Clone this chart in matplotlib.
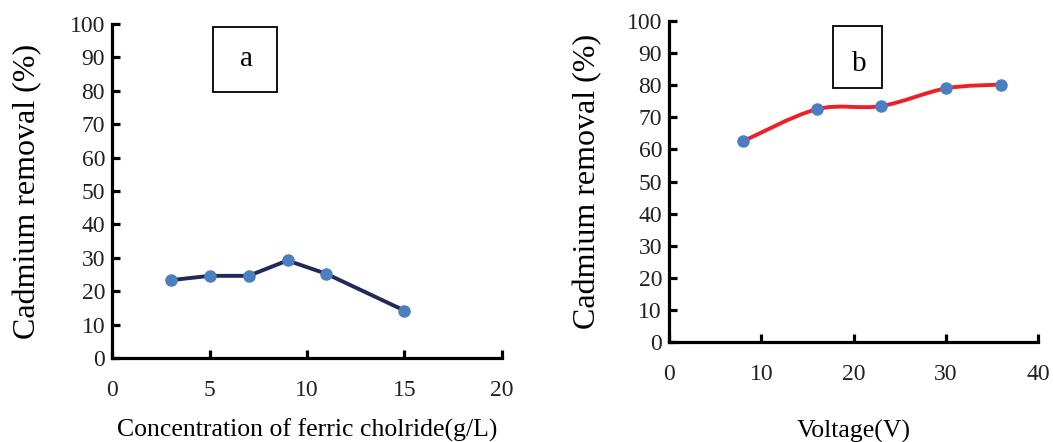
import matplotlib.pyplot as plt
import numpy as np
from matplotlib.path import Path
from matplotlib.patches import PathPatch

plt.rcParams['font.family'] = ['Liberation Serif', 'DejaVu Serif']

# panel a: ferric chloride dose
conc = [3, 5, 7, 9, 11, 15]
removal_a = [23.3, 24.6, 24.6, 29.2, 25.2, 14.2]

# panel b: voltage
volt = [8, 16, 23, 30, 36]
removal_b = [62.5, 72.5, 73.5, 79.0, 80.2]

navy = '#1f2a5a'
red = '#ee1f26'
dot = '#4a7fc1'


def smooth_path(x, y):
    # Catmull-Rom style bezier, like the "smoothed line" option in spreadsheets
    p = np.column_stack([x, y]).astype(float)
    verts = [p[0]]
    codes = [Path.MOVETO]
    n = len(p)
    for i in range(n - 1):
        p0 = p[i - 1] if i > 0 else p[i]
        p3 = p[i + 2] if i + 2 < n else p[i + 1]
        c1 = p[i] + (p[i + 1] - p0) / 6
        c2 = p[i + 1] - (p3 - p[i]) / 6
        verts += [c1, c2, p[i + 1]]
        codes += [Path.CURVE4] * 3
    return Path(verts, codes)


def style(ax, xmax, xstep):
    ax.set_ylim(0, 100)
    ax.set_xlim(0, xmax)
    ax.set_yticks(np.arange(0, 101, 10))
    ax.set_xticks(np.arange(0, xmax + 1, xstep))
    for s in ['top', 'right']:
        ax.spines[s].set_visible(False)
    for s in ['left', 'bottom']:
        ax.spines[s].set_linewidth(2.3)
    ax.tick_params(direction='in', length=6, width=2.3, labelsize=17,
                   labelcolor='#222222', pad=5)
    ax.tick_params(axis='x', pad=16)
    ax.set_ylabel('Cadmium removal (%)', fontsize=23)
    ax.yaxis.set_label_coords(-0.18, 0.5)


fig = plt.figure(figsize=(10.53, 4.42), dpi=100)

ax1 = fig.add_axes([0.1064, 0.190, 0.3703, 0.7557])
style(ax1, 20, 5)
ax1.plot(conc, removal_a, color=navy, lw=2.8, marker='o', ms=8,
         mfc=dot, mec=dot, zorder=3)
ax1.set_xlabel('Concentration of ferric cholride(g/L)', fontsize=18.5)
ax1.xaxis.set_label_coords(0.50, -0.182)
ax1.text(0.345, 0.895, 'a', transform=ax1.transAxes, fontsize=21,
         ha='center', va='center', zorder=5)
ax1.add_patch(plt.Rectangle((0.258, 0.797), 0.164, 0.195, transform=ax1.transAxes,
                            fill=False, ec='black', lw=1.3, clip_on=False))

ax2 = fig.add_axes([0.6353, 0.2262, 0.3505, 0.7263])
style(ax2, 40, 10)
ax2.add_patch(PathPatch(smooth_path(volt, removal_b), fill=False,
                        ec=red, lw=2.8, zorder=2))
ax2.plot(volt, removal_b, ls='none', marker='o', ms=8, mfc=dot, mec=dot, zorder=3)
ax2.set_xlabel('Voltage(V)', fontsize=18.5)
ax2.xaxis.set_label_coords(0.5, -0.243)
ax2.text(0.515, 0.865, 'b', transform=ax2.transAxes, fontsize=21,
         ha='center', va='center', zorder=5)
ax2.add_patch(plt.Rectangle((0.445, 0.79), 0.133, 0.193, transform=ax2.transAxes,
                            fill=False, ec='black', lw=1.3, clip_on=False))

fig.savefig('out.png', dpi=100)
